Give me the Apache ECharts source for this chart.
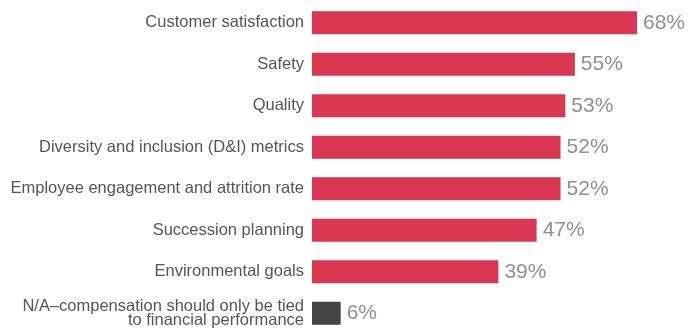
<!DOCTYPE html>
<html><head><meta charset="utf-8">
<script src="https://cdn.jsdelivr.net/npm/echarts@6/dist/echarts.min.js"></script>
<style>html,body{margin:0;padding:0;background:#fff;overflow:hidden}#c{width:688px;height:336px}</style>
</head><body><div id="c"></div>
<script>
var categories = ["Customer satisfaction","Safety","Quality","Diversity and inclusion (D&I) metrics","Employee engagement and attrition rate","Succession planning","Environmental goals","N/A\u2013compensation should only be tied\nto financial performance"];
var values = [68,55,53,52,52,47,39,6];
var colors = ["#DB3753","#DB3753","#DB3753","#DB3753","#DB3753","#DB3753","#DB3753","#444444"];
var chart = echarts.init(document.getElementById('c'));
chart.setOption({
  animation:false,
  grid:{left:312,top:2,bottom:2,width:325,containLabel:false},
  xAxis:{type:'value',min:0,max:68,show:false},
  yAxis:{type:'category',inverse:true,data:categories,
    axisLine:{show:false},axisTick:{show:false},
    axisLabel:{margin:8,color:'#555',fontSize:16.5,fontFamily:'Liberation Sans, Arial, sans-serif',lineHeight:14,align:'right'}},
  series:[{type:'bar',barWidth:23,
    data:values.map(function(v,i){return {value:v,itemStyle:{color:colors[i]}};}),
    label:{show:true,position:'right',distance:6,formatter:'{c}%',color:'#8f8f8f',fontSize:21,fontFamily:'Liberation Sans, Arial, sans-serif'}}]
});
</script></body></html>
